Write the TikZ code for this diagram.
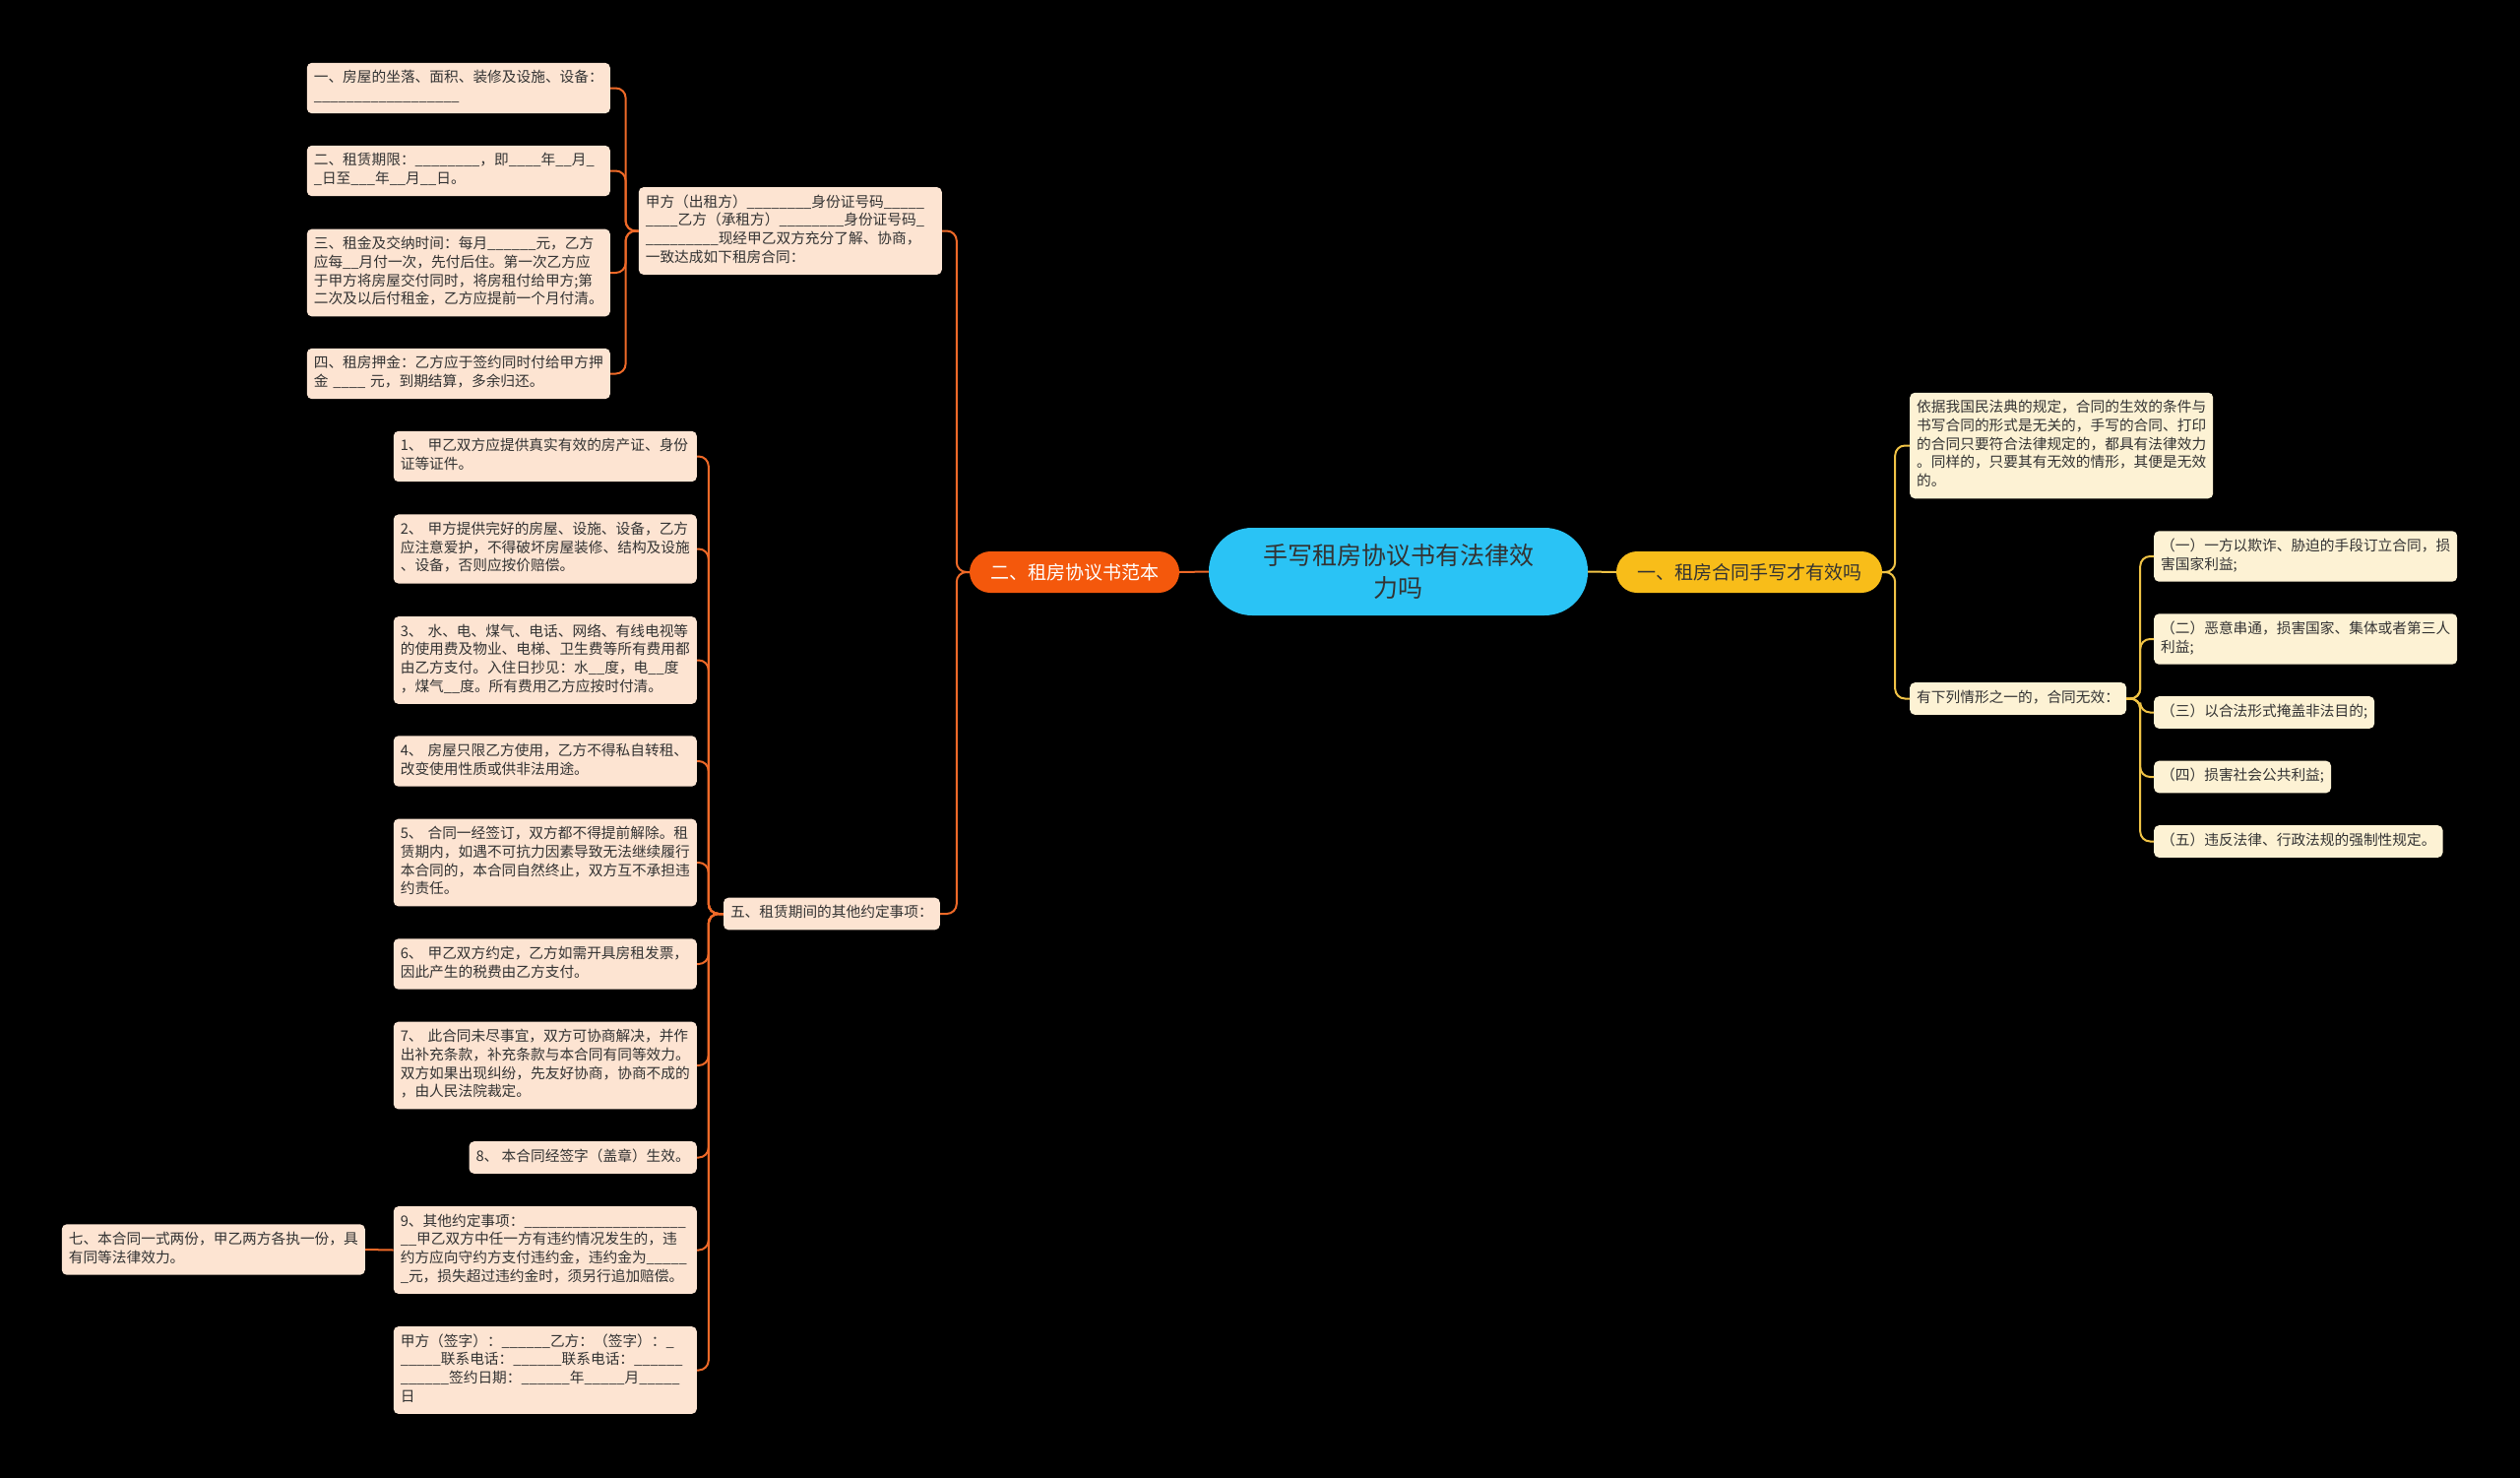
\documentclass[tikz,border=0pt]{standalone}
\usepackage{fontspec}
\setmainfont{Noto Sans CJK SC}
\usepackage{tikz}
\definecolor{RootBlue}{RGB}{42,195,245}
\definecolor{BranchOrange}{RGB}{244,88,12}
\definecolor{BranchYellow}{RGB}{248,189,25}
\definecolor{LineOrange}{RGB}{238,105,40}
\definecolor{LineYellow}{RGB}{240,195,70}
\definecolor{LeafPeach}{RGB}{253,228,210}
\definecolor{LeafCream}{RGB}{253,242,212}
\definecolor{TextDark}{RGB}{51,51,51}
\newcommand{\ublank}[1]{\foreach \k in {1,...,#1}{\_}}

\begin{document}
\begin{tikzpicture}[x=1pt, y=-1pt,
    leaf/.style={rounded corners=5pt, inner xsep=7pt, inner ysep=7pt, text=TextDark,
      font=\fontsize{14.7}{18.7}\selectfont, execute at begin node=\strut, execute at end node=\strut},
    leafL/.style={leaf, fill=LeafPeach},
    leafR/.style={leaf, fill=LeafCream},
    wide/.style={text width=294pt, align=left},
    branch/.style={rounded corners=21pt, minimum height=42pt, inner sep=0pt,
      font=\fontsize{19}{22}\selectfont},
    linkO/.style={draw=LineOrange, line width=2pt, rounded corners=10pt},
    linkY/.style={draw=LineYellow, line width=2pt, rounded corners=10pt}]

    % Background
    \useasboundingbox (0,0) rectangle (2560,1500);
    \fill[black] (-10,-10) rectangle (2570,1510);

    % Root and main branches
    \node[fill=RootBlue, text=TextDark, rounded corners=44pt, minimum width=385pt, minimum height=89pt,
      align=center, font=\fontsize{25}{33}\selectfont] (root) at (1420.5,580.5)
      {手写租房协议书有法律效\\力吗};
    \node[branch, fill=BranchOrange, text=white, minimum width=213pt] (sample) at (1091.5,581)
      {二、租房协议书范本};
    \node[branch, fill=BranchYellow, text=TextDark, minimum width=270pt] (valid) at (1777,581)
      {一、租房合同手写才有效吗};

    % Left: contract sample
    \node[leafL, wide, anchor=east] (jf) at (957,234.5)
      {甲方（出租方）\ublank{8}身份证号码\ublank{5}\\
       \ublank{4}乙方（承租方）\ublank{8}身份证号码\ublank{1}\\
       \ublank{9}现经甲乙双方充分了解、协商，\\
       一致达成如下租房合同：};
    \node[leafL, wide, anchor=east] (a1) at (620,89.5)
      {一、房屋的坐落、面积、装修及设施、设备：\\ \ublank{18}};
    \node[leafL, wide, anchor=east] (a2) at (620,173.5)
      {二、租赁期限：\ublank{8}，即\ublank{4}年\ublank{2}月\ublank{1}\\
       \ublank{1}日至\ublank{3}年\ublank{2}月\ublank{2}日。};
    \node[leafL, wide, anchor=east] (a3) at (620,277)
      {三、租金及交纳时间：每月\ublank{6}元，乙方\\
       应每\ublank{2}月付一次，先付后住。第一次乙方应\\
       于甲方将房屋交付同时，将房租付给甲方;第\\
       二次及以后付租金，乙方应提前一个月付清。};
    \node[leafL, wide, anchor=east] (a4) at (620,379.5)
      {四、租房押金：乙方应于签约同时付给甲方押\\
       金 \ublank{4} 元，到期结算，多余归还。};

    \node[leafL, anchor=east] (wu) at (955,928) {五、租赁期间的其他约定事项：};
    \node[leafL, wide, anchor=east] (b1) at (708,463.5)
      {1、 甲乙双方应提供真实有效的房产证、身份\\证等证件。};
    \node[leafL, wide, anchor=east] (b2) at (708,557.5)
      {2、 甲方提供完好的房屋、设施、设备，乙方\\
       应注意爱护，不得破坏房屋装修、结构及设施\\
       、设备，否则应按价赔偿。};
    \node[leafL, wide, anchor=east] (b3) at (708,670.5)
      {3、 水、电、煤气、电话、网络、有线电视等\\
       的使用费及物业、电梯、卫生费等所有费用都\\
       由乙方支付。入住日抄见：水\ublank{2}度，电\ublank{2}度\\
       ，煤气\ublank{2}度。所有费用乙方应按时付清。};
    \node[leafL, wide, anchor=east] (b4) at (708,773)
      {4、 房屋只限乙方使用，乙方不得私自转租、\\
       改变使用性质或供非法用途。};
    \node[leafL, wide, anchor=east] (b5) at (708,876)
      {5、 合同一经签订，双方都不得提前解除。租\\
       赁期内，如遇不可抗力因素导致无法继续履行\\
       本合同的，本合同自然终止，双方互不承担违\\
       约责任。};
    \node[leafL, wide, anchor=east] (b6) at (708,979)
      {6、 甲乙双方约定，乙方如需开具房租发票，\\
       因此产生的税费由乙方支付。};
    \node[leafL, wide, anchor=east] (b7) at (708,1082)
      {7、 此合同未尽事宜，双方可协商解决，并作\\
       出补充条款，补充条款与本合同有同等效力。\\
       双方如果出现纠纷，先友好协商，协商不成的\\
       ，由人民法院裁定。};
    \node[leafL, anchor=east] (b8) at (708,1175.5) {8、 本合同经签字（盖章）生效。};
    \node[leafL, wide, anchor=east] (b9) at (708,1269.5)
      {9、其他约定事项：\ublank{20}\\
       \ublank{2}甲乙双方中任一方有违约情况发生的，违\\
       约方应向守约方支付违约金，违约金为\ublank{5}\\
       \ublank{1}元，损失超过违约金时，须另行追加赔偿。};
    \node[leafL, wide, anchor=east] (b10) at (708,1391.5)
      {甲方（签字）：\ublank{6}乙方：（签字）：\ublank{1}\\
       \ublank{5}联系电话：\ublank{6}联系电话：\ublank{6}\\
       \ublank{6}签约日期：\ublank{6}年\ublank{5}月\ublank{5}\\
       日};
    \node[leafL, wide, anchor=east] (qi) at (371,1269)
      {七、本合同一式两份，甲乙两方各执一份，具\\有同等法律效力。};

    % Right: validity
    \node[leafR, wide, anchor=west] (law) at (1940,452.5)
      {依据我国民法典的规定，合同的生效的条件与\\
       书写合同的形式是无关的，手写的合同、打印\\
       的合同只要符合法律规定的，都具有法律效力\\
       。同样的，只要其有无效的情形，其便是无效\\
       的。};
    \node[leafR, anchor=west] (cases) at (1940,709.5) {有下列情形之一的，合同无效：};
    \node[leafR, wide, anchor=west] (c1) at (2188,565)
      {（一）一方以欺诈、胁迫的手段订立合同，损\\害国家利益;};
    \node[leafR, wide, anchor=west] (c2) at (2188,649)
      {（二）恶意串通，损害国家、集体或者第三人\\利益;};
    \node[leafR, anchor=west] (c3) at (2188,723.5) {（三）以合法形式掩盖非法目的;};
    \node[leafR, anchor=west] (c4) at (2188,789) {（四）损害社会公共利益;};
    \node[leafR, anchor=west] (c5) at (2188,854.5) {（五）违反法律、行政法规的强制性规定。};

    % Connectors
    \draw[linkO] (root.west) -- (sample.east);
    \draw[linkY] (root.east) -- (valid.west);
    \foreach \c in {jf,wu} \draw[linkO] (sample.west) -- ++(-13,0) |- (\c.east);
    \foreach \c in {a1,a2,a3,a4} \draw[linkO] (jf.west) -- ++(-13,0) |- (\c.east);
    \foreach \c in {b1,b2,b3,b4,b5,b6,b7,b8,b9,b10} \draw[linkO] (wu.west) -- ++(-15,0) |- (\c.east);
    \draw[linkO] (b9.west) -- (qi.east);
    \foreach \c in {law,cases} \draw[linkY] (valid.east) -- ++(13,0) |- (\c.west);
    \foreach \c in {c1,c2,c3,c4,c5} \draw[linkY] (cases.east) -- ++(14,0) |- (\c.west);
  \end{tikzpicture}
\end{document}
